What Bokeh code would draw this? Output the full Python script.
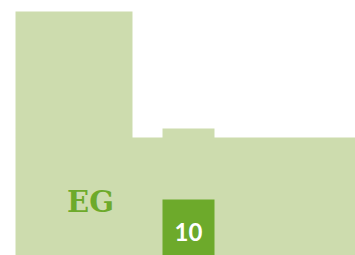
from bokeh.plotting import figure
from bokeh.models import Range1d
from bokeh.core.properties import value
from bokeh.embed import file_html
from bokeh.resources import INLINE

# floor outline (plan coordinates)
floor_x = [15, 132, 132, 162, 162, 214, 214, 355, 355, 15]
floor_y = [11, 11, 137, 137, 128, 128, 137, 137, 255, 255]
floor_label = "EG"
floor_label_pos = (90, 201)

# room / unit marker
unit_labels = ["10"]
unit_left = [162]
unit_right = [214]
unit_top = [199]
unit_bottom = [255]

LIGHT = "#cddcae"
DARK = "#6daa2b"

p = figure(width=355, height=255, x_range=Range1d(0, 355), y_range=Range1d(255, 0),
           output_backend="svg", toolbar_location=None, min_border=0,
           outline_line_color=None)
p.axis.visible = False
p.grid.visible = False
p.background_fill_color = "white"
p.border_fill_color = "white"

p.patch(floor_x, floor_y, fill_color=LIGHT, line_color=None)
p.text(x=[floor_label_pos[0]], y=[floor_label_pos[1]], text=[floor_label],
       text_font=value("DejaVu Serif"), text_font_style="bold", text_font_size="29px",
       text_color=DARK, text_align="center", text_baseline="middle")

p.quad(left=unit_left, right=unit_right, top=unit_top, bottom=unit_bottom,
       fill_color=DARK, line_color=None)
p.text(x=[(l + r) / 2 for l, r in zip(unit_left, unit_right)], y=[231], text=unit_labels,
       text_font=value("Lato"), text_font_style="bold", text_font_size="24px",
       text_color="white", text_align="center", text_baseline="middle")

open("out.html", "w").write(file_html(p, INLINE))
